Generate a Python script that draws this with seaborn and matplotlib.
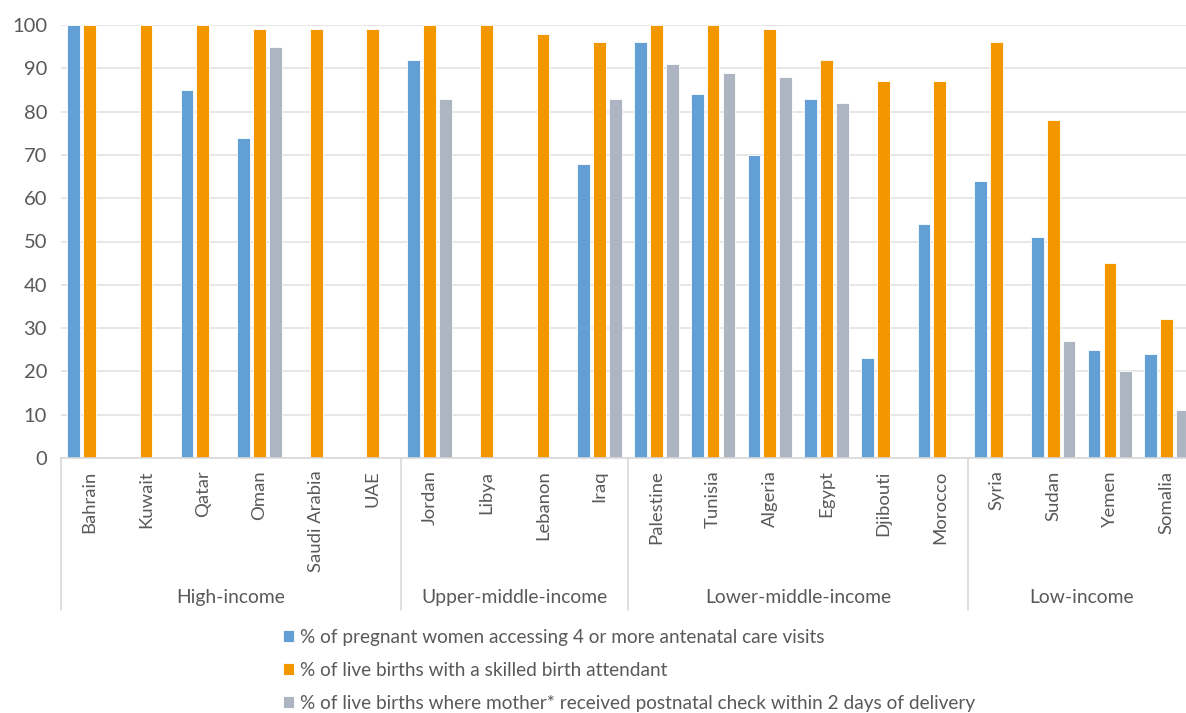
import numpy as np
import pandas as pd
import matplotlib
matplotlib.use("Agg")
import matplotlib.pyplot as plt
import matplotlib.transforms as mtransforms
import seaborn as sns

# Countries, ordered within their income group
countries = ["Bahrain", "Kuwait", "Qatar", "Oman", "Saudi Arabia", "UAE",
             "Jordan", "Libya", "Lebanon", "Iraq",
             "Palestine", "Tunisia", "Algeria", "Egypt", "Djibouti", "Morocco",
             "Syria", "Sudan", "Yemen", "Somalia"]
groups = ["High-income", "Upper-middle-income", "Lower-middle-income", "Low-income"]
group_sizes = [6, 4, 6, 4]

nan = np.nan
antenatal = [100, nan, 85, 74, nan, nan,
             92, nan, nan, 68,
             96, 84, 70, 83, 23, 54,
             64, 51, 25, 24]
skilled = [100, 100, 100, 99, 99, 99,
           100, 100, 98, 96,
           100, 100, 99, 92, 87, 87,
           96, 78, 45, 32]
postnatal = [nan, nan, nan, 95, nan, nan,
             83, nan, nan, 83,
             91, 89, 88, 82, nan, nan,
             nan, 27, 20, 11]

series_names = ["% of pregnant women accessing 4 or more antenatal care visits",
                "% of live births with a skilled birth attendant",
                "% of live births where mother* received postnatal check within 2 days of delivery"]
colors = ["#629FD5", "#F39700", "#AEB5C2"]

df = pd.DataFrame({
    "country": countries * 3,
    "series": np.repeat(series_names, len(countries)),
    "value": antenatal + skilled + postnatal,
})

sns.set_theme(style="white")
plt.rcParams["font.family"] = ["Lato", "DejaVu Sans"]
text_color = "#595959"

fig = plt.figure(figsize=(11.86, 7.13), dpi=100)
ax = fig.add_axes([61 / 1186, 1 - 458 / 713, (1195 - 61) / 1186, (458 - 25) / 713])

sns.barplot(data=df, x="country", y="value", hue="series",
            order=countries, hue_order=series_names, palette=colors,
            width=0.84, gap=0.2, edgecolor="white", linewidth=0.6,
            saturation=1, errorbar=None, ax=ax)

ax.set_ylim(0, 100)
ax.set_xlim(-0.5, len(countries) - 0.5)
ax.set_yticks(range(0, 101, 10))
ax.yaxis.grid(True, color="#E3E3E3", linewidth=1.2)
ax.set_axisbelow(True)
for side in ["top", "right", "left"]:
    ax.spines[side].set_visible(False)
ax.spines["bottom"].set_color("#D9D9D9")
ax.spines["bottom"].set_linewidth(1.2)
ax.set_xlabel("")
ax.set_ylabel("")
ax.tick_params(axis="y", length=0, pad=10, labelsize=14.5, labelcolor=text_color)
ax.tick_params(axis="x", length=0, pad=9, labelsize=13.3, labelcolor=text_color)
ax.set_xticks(range(len(countries)))
ax.set_xticklabels(countries, rotation=90, va="top")

# Income group separators and labels beneath the country names
trans = mtransforms.blended_transform_factory(ax.transData, ax.transAxes)
edges = np.concatenate([[0], np.cumsum(group_sizes)]) - 0.5
for e in edges:
    ax.plot([e, e], [0, -0.352], transform=trans, color="#D9D9D9",
            linewidth=1.2, clip_on=False)
for g, lo, hi in zip(groups, edges[:-1], edges[1:]):
    ax.text((lo + hi) / 2, -0.323, g, transform=trans, ha="center", va="center",
            fontsize=13.9, color=text_color)

handles, labels = ax.get_legend_handles_labels()
ax.legend_.remove()
fig.legend(handles, labels, loc="upper left", bbox_to_anchor=(273 / 1186, 1 - 619 / 713),
           frameon=False, fontsize=13.7, labelcolor=text_color,
           handlelength=0.6, handleheight=0.6, handletextpad=0.3,
           labelspacing=0.85, borderpad=0)

fig.savefig("out.png", dpi=100)
